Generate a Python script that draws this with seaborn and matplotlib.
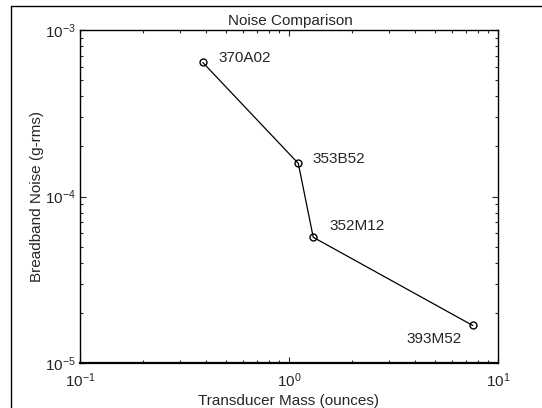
import matplotlib
matplotlib.use("Agg")
import matplotlib.pyplot as plt
import seaborn as sns
import pandas as pd
from matplotlib.lines import Line2D

models = ["370A02", "353B52", "352M12", "393M52"]
mass_oz = [0.387, 1.108, 1.306, 7.57]
noise_grms = [6.38e-4, 1.58e-4, 5.69e-5, 1.68e-5]

df = pd.DataFrame({"mass": mass_oz, "noise": noise_grms, "model": models})

sns.set_style("ticks")
plt.rcParams["font.family"] = ["Liberation Sans", "DejaVu Sans"]
plt.rcParams["mathtext.fontset"] = "custom"
plt.rcParams["mathtext.rm"] = "Liberation Sans"
plt.rcParams["mathtext.it"] = "Liberation Sans"
plt.rcParams["mathtext.bf"] = "Liberation Sans:bold"
plt.rcParams["xtick.direction"] = "in"
plt.rcParams["ytick.direction"] = "in"

fig = plt.figure(figsize=(5.42, 4.08), dpi=100)
W, H = 542, 408
L, R, T, B = 80, 498, 30, 363
ax = fig.add_axes([L / W, 1 - B / H, (R - L) / W, (B - T) / H])

sns.lineplot(data=df, x="mass", y="noise", ax=ax, color="black", lw=0.9,
             marker="o", markersize=5, markerfacecolor="none",
             markeredgecolor="black", markeredgewidth=1.0, sort=False)

ax.set_xscale("log")
ax.set_yscale("log")
ax.set_xlim(0.1, 10)
ax.set_ylim(1e-5, 1e-3)

fs = 11
offsets = {"370A02": (16, 4), "353B52": (14, 4), "352M12": (16, 11), "393M52": (-66, -14)}
for m, x, y in zip(models, mass_oz, noise_grms):
    dx, dy = offsets[m]
    ax.annotate(m, (x, y), xytext=(dx, dy), textcoords="offset pixels",
                fontsize=fs, ha="left", va="center")

fig.text(0.5 * (L + R) / W + 1 / W, 1 - 21 / H, "Noise Comparison",
         fontsize=fs, ha="center", va="center")
ax.set_xlabel("Transducer Mass (ounces)", fontsize=fs)
ax.set_ylabel("Breadband Noise (g-rms)", fontsize=fs)
ax.xaxis.set_label_coords(0.5, (B - 401) / (B - T))
ax.xaxis.label.set_va("center")
ax.yaxis.set_label_coords((37 - L) / (R - L), 0.5)
ax.yaxis.label.set_va("center")

ax.tick_params(axis="both", which="both", direction="in", top=True, right=True,
               labelsize=fs, width=0.8)
ax.tick_params(axis="x", pad=6)
ax.tick_params(axis="y", pad=3)
ax.tick_params(which="major", length=4)
ax.tick_params(which="minor", length=2)
for s in ax.spines.values():
    s.set_linewidth(1.0)
    s.set_color("black")
ax.spines["bottom"].set_linewidth(1.6)

# outer frame
fig.add_artist(Line2D([11 / W, 11 / W], [0, 1 - 6 / H], color="black", lw=1.0))
fig.add_artist(Line2D([11 / W, 1], [1 - 6 / H, 1 - 6 / H], color="black", lw=1.0))

fig.savefig("out.png", dpi=100, facecolor="white")
